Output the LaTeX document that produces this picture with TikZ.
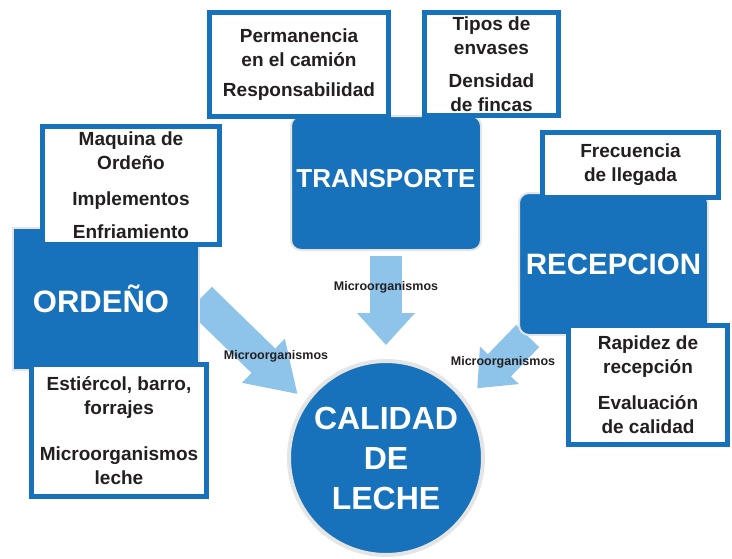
\documentclass[tikz,border=0pt]{standalone}
\usepackage{fontspec}
\setmainfont{Liberation Sans}
\usetikzlibrary{arrows.meta, backgrounds}
\definecolor{azul}{RGB}{23,114,187}
\definecolor{celeste}{RGB}{142,196,233}
\definecolor{tinta}{RGB}{35,31,32}

\begin{document}
\begin{tikzpicture}[x=1pt, y=-1pt,
		bloque/.style={fill=azul, draw=black!10, line width=2pt, text=white},
		caja/.style={fill=white, draw=azul, line width=5pt, align=center, inner sep=0pt, text=tinta, font=\fontsize{19}{24}\selectfont\bfseries},
		flujo/.style={draw=celeste, line width=32pt, -{Triangle[length=32pt, width=56pt]}},
		etiqueta/.style={font=\fontsize{12.5}{14}\selectfont\bfseries, text=tinta}]
	
		\useasboundingbox (0,0) rectangle (732,558);
		
		\node[bloque, rounded corners=10pt, minimum width=190pt, minimum height=134pt, text depth=10pt, font=\fontsize{26}{30}\selectfont\bfseries] (transporte) at (386,183){TRANSPORTE};
		\node[bloque, rounded corners=10pt, minimum width=189pt, minimum height=142pt, font=\fontsize{29.5}{32}\selectfont\bfseries] (recepcion) at (613.5,264){RECEPCION};
		\node[bloque, minimum width=186pt, minimum height=142pt, font=\fontsize{31}{34}\selectfont\bfseries] (ordeno) at (106,299){\hspace*{-10pt}ORDEÑO};
		\node[circle, fill=azul, draw=black!10, line width=4pt, minimum size=194pt, align=center, text=white, font=\fontsize{32}{40}\selectfont\bfseries] (calidad) at (386,458){CALIDAD\\DE\\LECHE};
		
		\node[caja, minimum width=179pt, minimum height=104pt] (permanencia) at (299,64.5){Permanencia\\en el camión\\[6pt]Responsabilidad};
		\node[caja, minimum width=134pt, minimum height=103pt] (envases) at (491.5,64){Tipos de\\envases\\[9pt]Densidad\\de fincas};
		\node[caja, minimum width=176pt, minimum height=65pt] (llegada) at (630.5,165){Frecuencia\\de llegada};
		\node[caja, minimum width=177pt, minimum height=118pt] (maquina) at (131,185.5){Maquina de\\Ordeño\\[12pt]Implementos\\[9pt]Enfriamiento};
		\node[caja, minimum width=175pt, minimum height=132pt] (estiercol) at (119,430.5){Estiércol, barro,\\forrajes\\[22pt]Microorganismos\\leche};
		\node[caja, minimum width=159pt, minimum height=119pt] (rapidez) at (648,385){Rapidez de\\recepción\\[12pt]Evaluación\\de calidad};
		
		\node[etiqueta] (mtop) at (386,287){Microorganismos};
		\node[etiqueta] (mizq) at (276,356){Microorganismos};
		\node[etiqueta] (mder) at (503,362){Microorganismos};
		
		\begin{scope}[on background layer]
			\draw[flujo, shorten <=5pt, shorten >=14pt] (transporte.south) -- (calidad.north);
			\draw[flujo, line width=34pt, -{Triangle[length=48pt, width=58pt]}, shorten >=10pt] (ordeno.east) -- (calidad.145);
			\draw[flujo, -{Triangle[length=32pt, width=52pt]}, shorten >=16pt] (recepcion.220) -- (calidad.36);
		\end{scope}
	\end{tikzpicture}
\end{document}
